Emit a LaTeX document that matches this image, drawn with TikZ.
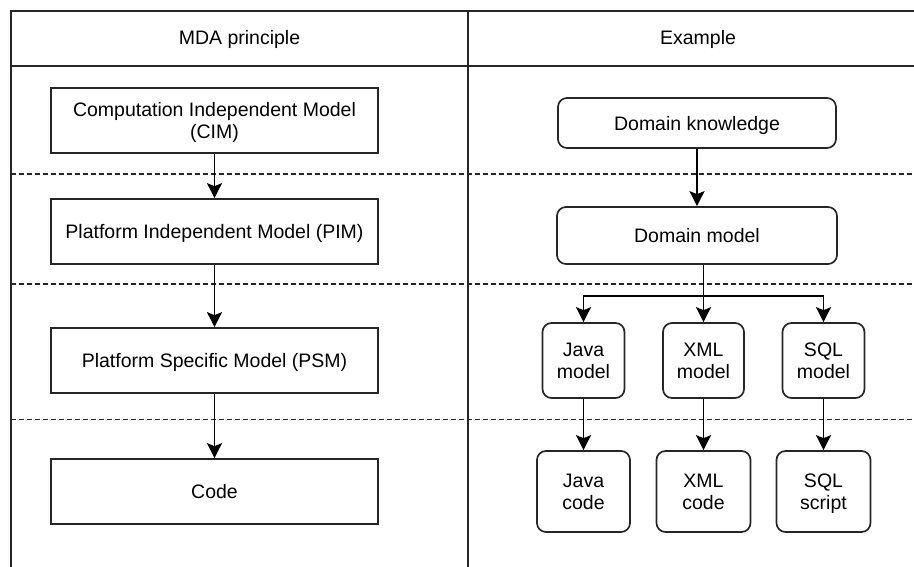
\documentclass[tikz,border=0pt]{standalone}
\usepackage{fontspec}
\setmainfont{Liberation Sans}
\usetikzlibrary{arrows.meta}
\begin{document}
\begin{tikzpicture}[x=1pt,y=-1pt,
  line width=1.7pt,
  font=\fontsize{19.5}{22}\selectfont,
  frame/.style={draw=black!85},
  sep/.style={draw=black!85, dash pattern=on 4.5pt off 3.5pt},
  plainbox/.style={draw=black!85, fill=white, minimum width=327pt, minimum height=65pt, align=center, inner sep=0pt, text depth=0pt},
  roundbox/.style={draw=black!85, fill=white, rounded corners=9pt, align=center, inner sep=0pt, text depth=0pt},
  arr/.style={draw=black, -{Stealth[length=15pt,width=15pt,inset=3pt]}}
]
\useasboundingbox (0,0) rectangle (914,567);

% table frame and header
\draw[frame] (914,11) -- (11,11) -- (11,567);
\draw[frame] (11,66) -- (914,66);
\draw[frame] (468,11) -- (468,567);
\node (hleft) at (239.5,39) {MDA principle};
\node (hright) at (698,39) {Example};

% level separators
\draw[sep] (11,174) -- (914,174);
\draw[sep] (11,284) -- (914,284);
\draw[sep] (11,419.5) -- (914,419.5);

% MDA principle column
\node[plainbox] (cim) at (214.5,120.5) {Computation Independent Model\\(CIM)};
\node[plainbox] (pim) at (214.5,231.5) {Platform Independent Model (PIM)};
\node[plainbox] (psm) at (214.5,360.5) {Platform Specific Model (PSM)};
\node[plainbox] (code) at (214.5,491.5) {Code};

\draw[arr] (cim.south) -- (pim.north);
\draw[arr] (pim.south) -- (psm.north);
\draw[arr] (psm.south) -- (code.north);

% example column
\node[roundbox, minimum width=278pt, minimum height=50pt] (dk) at (697,123) {Domain knowledge};
\node[roundbox, minimum width=280pt, minimum height=57pt] (dm) at (697,235.5) {Domain model};

\node[roundbox, minimum width=82pt, minimum height=75pt] (jm) at (583.5,360.5) {Java\\model};
\node[roundbox, minimum width=81pt, minimum height=75pt] (xm) at (703.5,360.5) {XML\\model};
\node[roundbox, minimum width=82pt, minimum height=75pt] (sm) at (823.5,360.5) {SQL\\model};

\node[roundbox, minimum width=93pt, minimum height=81pt] (jc) at (583.5,491.5) {Java\\code};
\node[roundbox, minimum width=94pt, minimum height=81pt] (xc) at (703.5,491.5) {XML\\code};
\node[roundbox, minimum width=94pt, minimum height=81pt] (sc) at (823.5,491.5) {SQL\\script};

\coordinate (split) at (703.5,296);

\draw[arr] (dk.south) -- (dm.north);
\draw[arr] (xm.north |- dm.south) -- (xm.north);
\draw[arr] (split) -| (jm.north);
\draw[arr] (split) -| (sm.north);

\draw[arr] (jm.south) -- (jm.south |- jc.north);
\draw[arr] (xm.south) -- (xm.south |- xc.north);
\draw[arr] (sm.south) -- (sm.south |- sc.north);
\end{tikzpicture}
\end{document}
